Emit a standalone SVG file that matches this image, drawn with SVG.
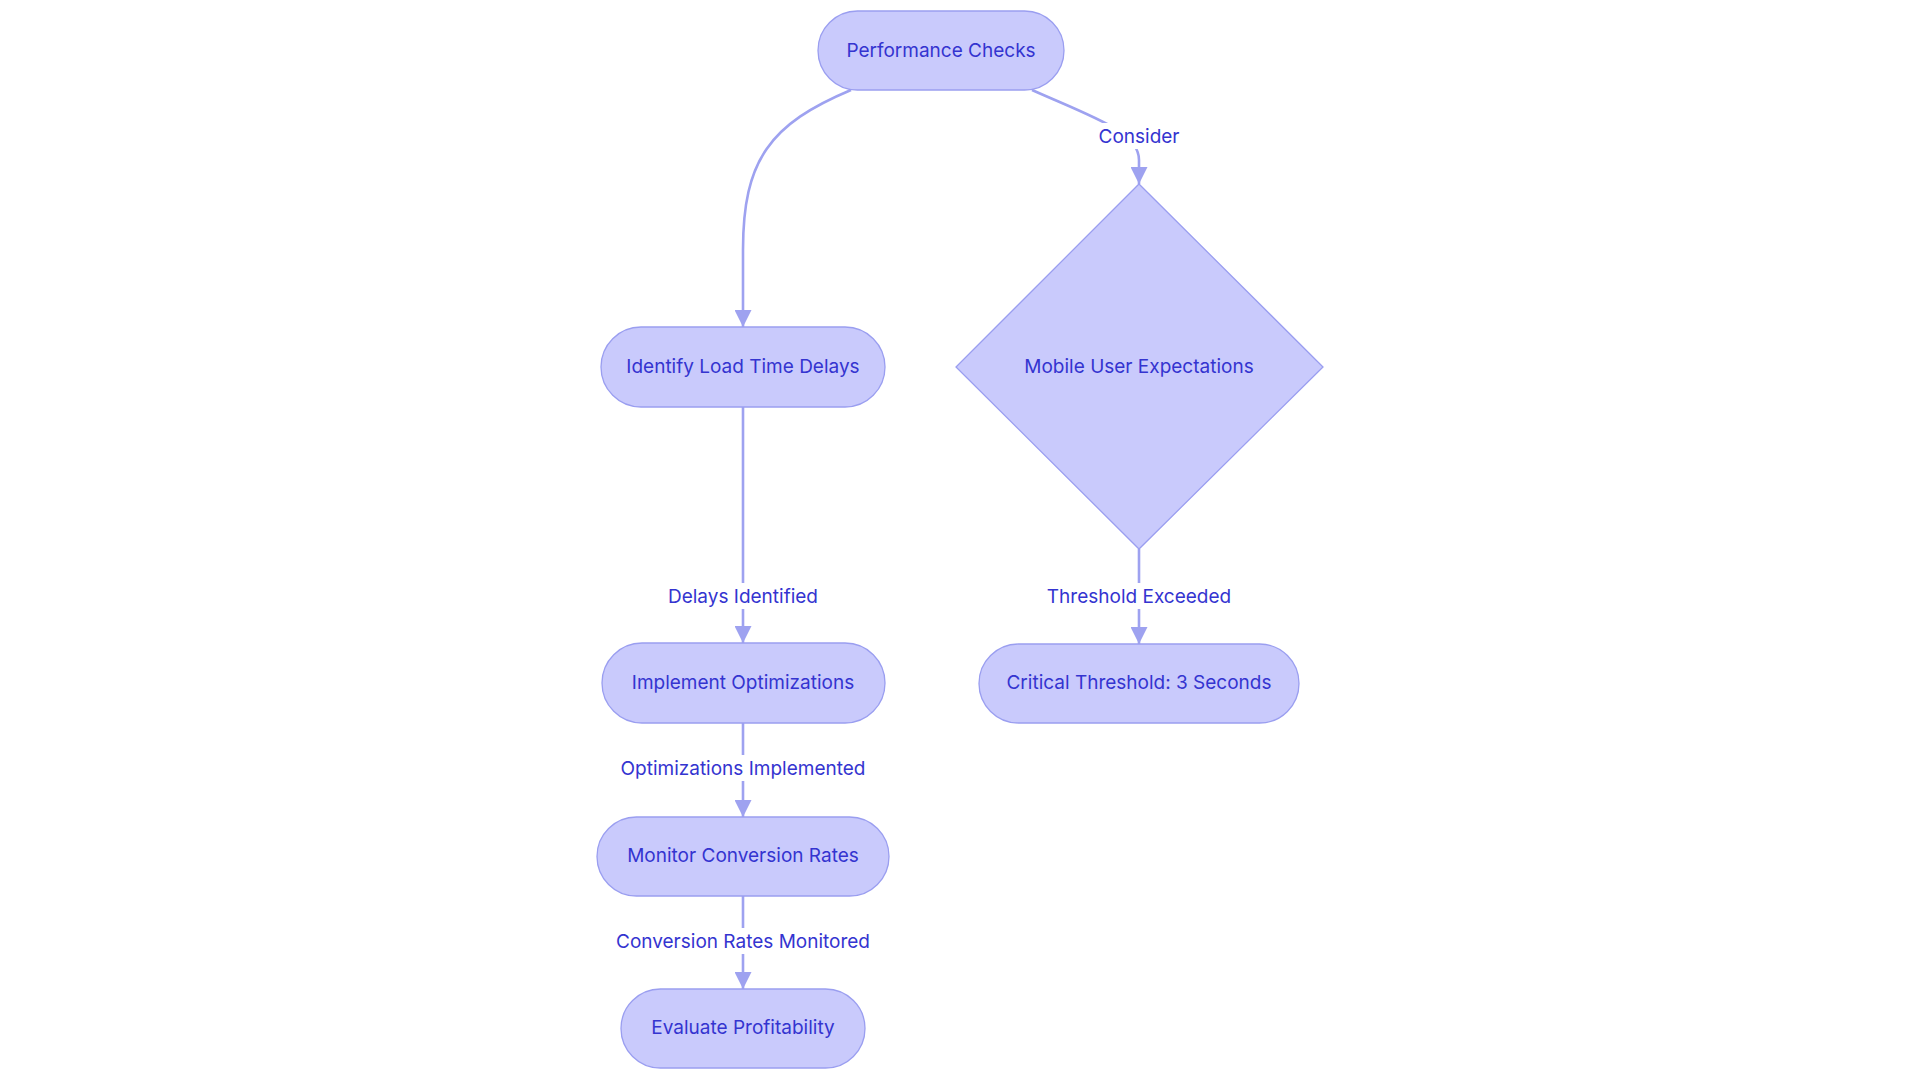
<svg xmlns="http://www.w3.org/2000/svg" width="1920" height="1083" viewBox="0 0 1920 1083">
<style>
.node{fill:#c9cafc;stroke:#9a9ef0;stroke-width:1.3}
.t{font-family:Inter,"Noto Sans",sans-serif;font-size:19px;fill:#3434d0;text-anchor:middle;dominant-baseline:central}
.e{fill:none;stroke:#9ea2f0;stroke-width:2.6}
.lb{fill:#ffffff}
</style>
<defs>
<marker id="ah" viewBox="0 0 17 17" refX="17" refY="8.5" markerWidth="17" markerHeight="17" markerUnits="userSpaceOnUse" orient="auto">
<path d="M0,0 L17,8.5 L0,17 z" fill="#9ea2f0"/>
</marker>
</defs>
<rect width="1920" height="1083" fill="#ffffff"/>
<g id="connectors">
<path class="e" d="M851,90 C770,124 743,160 743,250 L743,327" marker-end="url(#ah)"/>
<path class="e" d="M1032,90 C1095,118 1139,132 1139,160 L1139,184" marker-end="url(#ah)"/>
<path class="e" d="M743,407 L743,643" marker-end="url(#ah)"/>
<path class="e" d="M743,723 L743,817" marker-end="url(#ah)"/>
<path class="e" d="M743,896 L743,989" marker-end="url(#ah)"/>
<path class="e" d="M1139,549 L1139,644" marker-end="url(#ah)"/>
<rect class="lb" x="1098" y="123" width="82" height="26"/>
<text class="t" x="1139" y="136">Consider</text>
<rect class="lb" x="667" y="583" width="152" height="26"/>
<text class="t" x="743" y="596">Delays Identified</text>
<rect class="lb" x="618" y="755" width="250" height="26"/>
<text class="t" x="743" y="768">Optimizations Implemented</text>
<rect class="lb" x="613" y="928" width="260" height="26"/>
<text class="t" x="743" y="941">Conversion Rates Monitored</text>
<rect class="lb" x="1047" y="583" width="184" height="26"/>
<text class="t" x="1139" y="596">Threshold Exceeded</text>
</g>
<g id="performance-checks">
<rect class="node" x="818" y="11" width="246" height="79" rx="39.5"/>
<text class="t" x="941" y="50">Performance Checks</text>
</g>
<g id="identify-load-time-delays">
<rect class="node" x="601" y="327" width="284" height="80" rx="40"/>
<text class="t" x="743" y="366">Identify Load Time Delays</text>
</g>
<g id="mobile-user-expectations">
<polygon class="node" points="1139,184 1323,367 1139,549 956,367"/>
<text class="t" x="1139" y="366">Mobile User Expectations</text>
</g>
<g id="implement-optimizations">
<rect class="node" x="602" y="643" width="283" height="80" rx="40"/>
<text class="t" x="743" y="682">Implement Optimizations</text>
</g>
<g id="critical-threshold">
<rect class="node" x="979" y="644" width="320" height="79" rx="39.5"/>
<text class="t" x="1139" y="682">Critical Threshold: 3 Seconds</text>
</g>
<g id="monitor-conversion-rates">
<rect class="node" x="597" y="817" width="292" height="79" rx="39.5"/>
<text class="t" x="743" y="855">Monitor Conversion Rates</text>
</g>
<g id="evaluate-profitability">
<rect class="node" x="621" y="989" width="244" height="79" rx="39.5"/>
<text class="t" x="743" y="1027">Evaluate Profitability</text>
</g>
</svg>
